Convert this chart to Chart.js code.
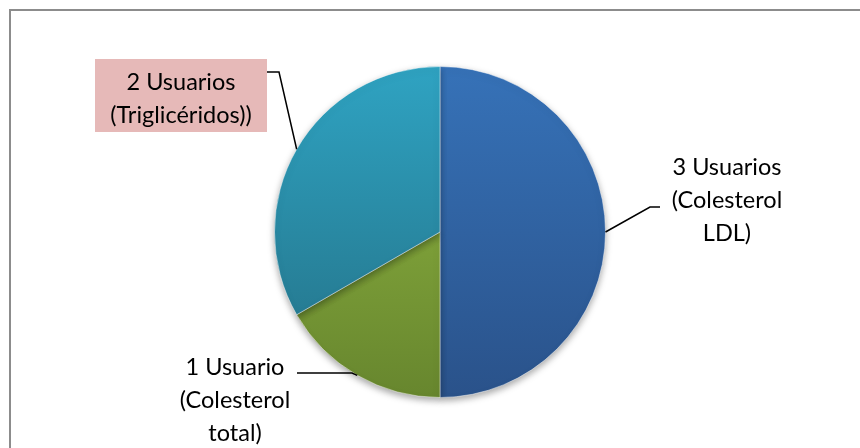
<!DOCTYPE html>
<html>
<head>
<meta charset="utf-8">
<script src="https://cdn.jsdelivr.net/npm/chart.js@4.4.1/dist/chart.umd.min.js"></script>
<style>
  html, body { margin: 0; padding: 0; background: #fff; overflow: hidden; }
  #wrap { position: relative; width: 860px; height: 448px; }
  #frame { position: absolute; left: 9px; top: 9px; width: 900px; height: 500px; border: 2px solid #8c8c8c; }
  canvas { position: absolute; left: 0; top: 0; }
</style>
</head>
<body>
<div id="wrap">
  <div id="frame"></div>
  <canvas id="pieChart" width="860" height="448"></canvas>
</div>
<script>
// data
const categories = ['Colesterol LDL', 'Colesterol total', 'Triglicéridos'];
const users = [3, 1, 2];
const labelLines = [
    ['3 Usuarios', '(Colesterol', 'LDL)'],
    ['1 Usuario', '(Colesterol', 'total)'],
    ['2 Usuarios', '(Triglicéridos))']
];

// gradient stops per slice (top -> bottom)
const sliceColors = [
    ['#3672b8', '#2a528a'],
    ['#93b943', '#67862e'],
    ['#2fa3c2', '#236f84']
];

// where each callout goes: text center, elbow and line start
const callouts = [
    { x: 727, y: 167, from: [660, 207], elbow: [650, 207] },
    { x: 235, y: 367, from: [297, 373], elbow: [352, 373] },
    { x: 181, y: 82, from: [267, 72], elbow: [279, 72], box: [95, 59, 172, 73] }
];

const gradientFill = (context) => {
    const chart = context.chart;
    const area = chart.chartArea;
    if (!area) return sliceColors[context.dataIndex][0];
    const g = chart.ctx.createLinearGradient(0, area.top, 0, area.bottom);
    g.addColorStop(0, sliceColors[context.dataIndex][0]);
    g.addColorStop(1, sliceColors[context.dataIndex][1]);
    return g;
};

const shadowPlugin = {
    id: 'shadow',
    beforeDatasetDraw(chart) {
        const ctx = chart.ctx;
        ctx.save();
        ctx.shadowColor = 'rgba(0,0,0,0.35)';
        ctx.shadowBlur = 7;
        ctx.shadowOffsetY = 3;
    },
    afterDatasetDraw(chart) {
        chart.ctx.restore();
    }
};

const calloutPlugin = {
    id: 'callouts',
    afterDatasetsDraw(chart) {
        const ctx = chart.ctx;
        const arcs = chart.getDatasetMeta(0).data;
        ctx.save();
        ctx.font = '23.5px Lato';
        ctx.textAlign = 'center';
        ctx.textBaseline = 'middle';
        arcs.forEach((arc, i) => {
            const c = callouts[i];
            const mid = (arc.startAngle + arc.endAngle) / 2;
            const ex = arc.x + arc.outerRadius * Math.cos(mid);
            const ey = arc.y + arc.outerRadius * Math.sin(mid);

            if (c.box) {
                ctx.fillStyle = '#e6b9b8';
                ctx.fillRect(c.box[0], c.box[1], c.box[2], c.box[3]);
            }

            ctx.strokeStyle = '#000';
            ctx.lineWidth = 1.5;
            ctx.beginPath();
            ctx.moveTo(c.from[0], c.from[1]);
            ctx.lineTo(c.elbow[0], c.elbow[1]);
            ctx.lineTo(ex, ey);
            ctx.stroke();

            ctx.fillStyle = '#000';
            labelLines[i].forEach((line, k) => {
                ctx.fillText(line, c.x, c.y + k * 33);
            });
        });
        ctx.restore();
    }
};

new Chart(document.getElementById('pieChart'), {
    type: 'pie',
    data: {
        labels: categories,
        datasets: [{
            data: users,
            backgroundColor: gradientFill,
            borderColor: 'rgba(255,255,255,0.45)',
            borderWidth: 1
        }]
    },
    options: {
        responsive: false,
        animation: false,
        layout: {
            padding: { top: 66, bottom: 50, left: 100, right: 80 }
        },
        plugins: {
            legend: { display: false },
            tooltip: { enabled: false }
        }
    },
    plugins: [shadowPlugin, calloutPlugin]
});
</script>
</body>
</html>
